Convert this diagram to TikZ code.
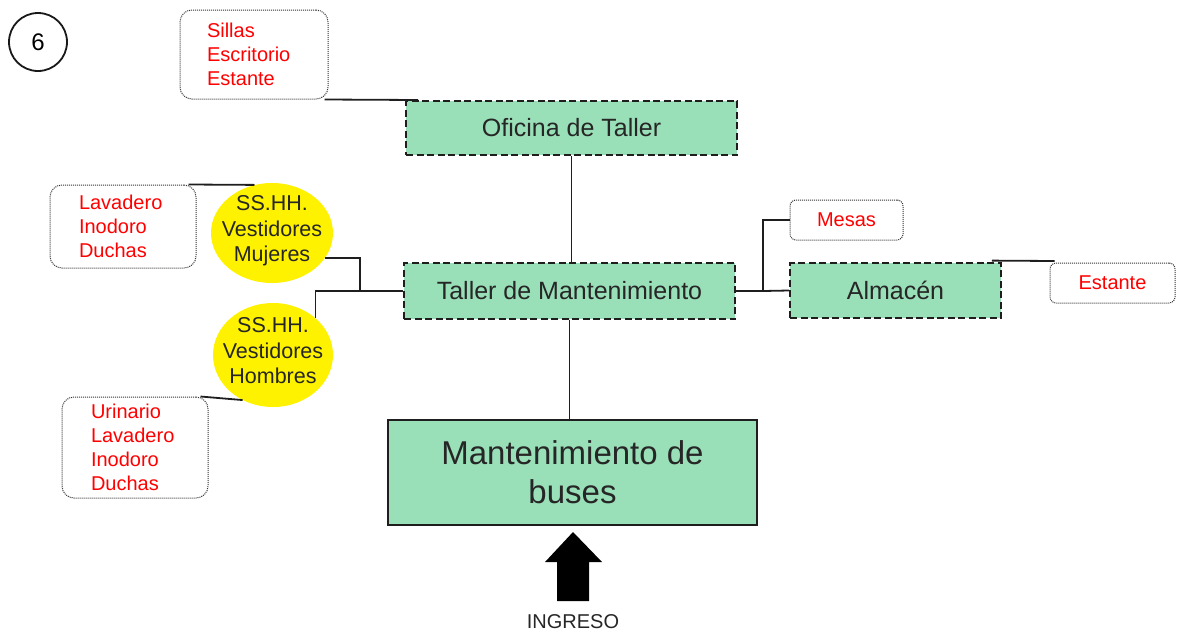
\documentclass[tikz,border=0pt]{standalone}
\usepackage{fontspec}
\setmainfont{Liberation Sans}
\usetikzlibrary{shapes.geometric}
\definecolor{boxgreen}{RGB}{153,223,184}
\definecolor{itemred}{RGB}{255,0,0}
\definecolor{linegray}{RGB}{30,30,30}
\begin{document}
\begin{tikzpicture}[x=1pt,y=-1pt,
  greenbox/.style={draw=linegray, fill=boxgreen, line width=1.8pt, dash pattern=on 7pt off 3.5pt,
     font=\fontsize{25}{29}\selectfont, inner sep=0pt, text=black!85},
  bigbox/.style={draw=linegray, fill=boxgreen, line width=1.8pt,
     font=\fontsize{33}{39}\selectfont, inner sep=0pt, align=center, text=black!85},
  itembox/.style={draw=black!80, line width=1pt, dash pattern=on 1pt off 1pt, rounded corners=12pt, text=itemred,
     font=\fontsize{20}{24}\selectfont, align=left, inner ysep=0pt},
  smallitem/.style={draw=black!80, line width=1pt, dash pattern=on 1pt off 1pt, rounded corners=6pt, text=itemred,
     font=\fontsize{20}{24}\selectfont, inner sep=0pt},
  yell/.style={ellipse, fill=yellow, draw=none, inner sep=0pt},
  yelltext/.style={align=center, font=\fontsize{21.5}{25.5}\selectfont, text=black!85, inner sep=0pt},
  conn/.style={draw=linegray, line width=1.8pt}
]
\useasboundingbox (0,0) rectangle (1180,635);

% number circle
\node[circle, draw=black!90, line width=1.8pt, minimum size=58pt, inner sep=0pt,
      font=\fontsize{24}{28}\selectfont] (six) at (38,42) {6};

% main boxes
\node[greenbox, minimum width=331pt, minimum height=54pt] (oficina) at (571.5,128) {Oficina de Taller};
\node[greenbox, minimum width=331pt, minimum height=56pt] (taller) at (569.5,291) {Taller de Mantenimiento};
\node[greenbox, minimum width=211pt, minimum height=55pt] (almacen) at (895.5,290.5) {Almac\'en};
\node[bigbox, minimum width=369pt, minimum height=105pt] (mant) at (572.5,472.5) {Mantenimiento de\\buses};

% item boxes
\node[itembox, minimum width=148pt, minimum height=89pt, inner xsep=27pt, text width=94pt] (sillas) at (254,54.5)
  {Sillas\\Escritorio\\Estante};
\node[itembox, minimum width=146pt, minimum height=83pt, inner xsep=29pt, text width=88pt] (lav) at (123,226.5)
  {Lavadero\\Inodoro\\Duchas};
\node[itembox, minimum width=146pt, minimum height=101pt, inner xsep=29pt, text width=88pt] (urin) at (135,447.5)
  {Urinario\\Lavadero\\Inodoro\\Duchas};
\node[smallitem, minimum width=113pt, minimum height=40pt] (mesas) at (846.5,220) {Mesas};
\node[smallitem, minimum width=125pt, minimum height=40pt] (estante) at (1112.5,283) {Estante};

% yellow ellipses
\node[yell, minimum width=122pt, minimum height=100pt] (mujeres) at (272,233) {};
\node[yelltext] (mujeresT) at (272,231) {SS.HH.\\Vestidores\\Mujeres};
\node[yell, minimum width=120pt, minimum height=104pt] (hombres) at (273,355) {};
\node[yelltext] (hombresT) at (273,351) {SS.HH.\\Vestidores\\Hombres};

% connector coordinates
\coordinate (sillasEnd) at (418,100);
\coordinate (jM) at (360,291);
\coordinate (jR) at (763,291);

% connectors
\draw[conn] ([xshift=-4pt]sillas.south east) -- (sillasEnd);
\draw[conn] (oficina.south) -- (oficina.south |- taller.north);
\draw[conn] (taller.south) -- (taller.south |- mant.north);
\draw[conn] ([xshift=-8pt]lav.north east) -- (mujeres.110);
\draw[conn] (mujeres.-25) -| (jM) -- (taller.west);
\draw[conn] (hombres.41) |- (taller.west);
\draw[conn] ([xshift=-8pt]urin.north east) -- (hombres.236);
\draw[conn] (taller.east) -- (jR) |- (mesas.west);
\draw[conn] (jR) -- (almacen.west);
\draw[conn] ([xshift=-10pt,yshift=1.5pt]almacen.north east) -- ([xshift=5pt,yshift=1.5pt]estante.north west);

% entrance arrow
\fill[black] (557,601) -- (589,601) -- (589,562) -- (602,562) -- (573,532) -- (545,562) -- (557,562) -- cycle;
\node[font=\fontsize{20}{24}\selectfont, text=black!85, inner sep=0pt] (ingreso) at (573,622) {INGRESO};
\end{tikzpicture}
\end{document}
